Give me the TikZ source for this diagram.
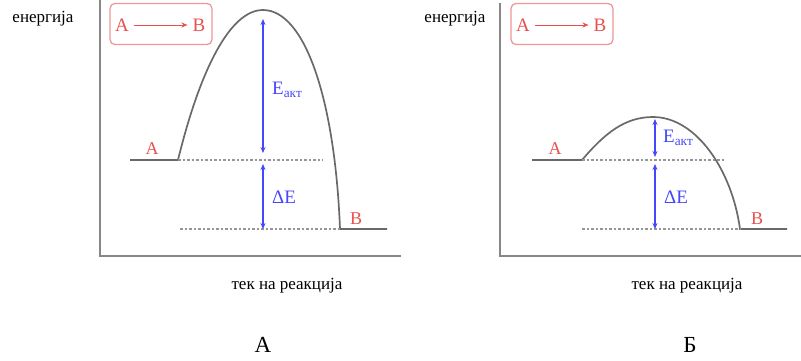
\documentclass[tikz,border=0pt]{standalone}
\usepackage{fontspec}
\setmainfont{Liberation Serif}
\usetikzlibrary{arrows.meta}
\definecolor{axisgray}{RGB}{135,135,135}
\definecolor{curvegray}{RGB}{105,105,105}
\definecolor{lblred}{RGB}{232,80,80}
\definecolor{boxred}{RGB}{240,150,150}
\definecolor{arrblue}{RGB}{70,70,250}
\definecolor{dotgray}{RGB}{150,150,150}
\tikzset{
  axis/.style={draw=axisgray, line width=2pt},
  curve/.style={draw=curvegray, line width=1.7pt},
  level/.style={draw=dotgray, line width=1.6pt, dash pattern=on 2.5pt off 2pt},
  earrow/.style={draw=arrblue, line width=1.1pt, {Stealth[length=6pt,width=5pt]}-{Stealth[length=6pt,width=5pt]}},
  axlabel/.style={font=\fontsize{17}{19}\selectfont, inner sep=0pt},
  redlbl/.style={text=lblred, font=\fontsize{18}{20}\selectfont, inner sep=0pt},
  boxlbl/.style={text=lblred, font=\fontsize{19}{21}\selectfont, inner sep=0pt},
  bluelbl/.style={text=arrblue, font=\fontsize{19}{21}\selectfont, inner sep=0pt},
  rxbox/.style={draw=boxred, line width=1.3pt, rounded corners=5pt, minimum width=102pt, minimum height=41pt},
  caption/.style={font=\fontsize{23}{26}\selectfont, inner sep=0pt}
}
\begin{document}
\begin{tikzpicture}[x=1pt,y=-1pt]
\useasboundingbox (0,0) rectangle (801,360);
% ---------- Panel A ----------
\coordinate (yA) at (100,0);
\coordinate (oA) at (100,256);
\coordinate (xA) at (401,256);
\draw[axis] (yA) -- (oA) -- (xA);
\node[axlabel] (enA) at (43,19) {енергија};
\node[axlabel] (tekA) at (287,286) {тек на реакција};
\node[rxbox] (boxA) at (161,24) {};
\node[boxlbl] (bA1) at (122,25) {A};
\node[boxlbl] (bA2) at (199,25) {B};
\draw[lblred, line width=0.9pt, -{Stealth[length=6pt,width=5pt]}] (bA1.east) ++(5pt,0) -- ([xshift=-5pt]bA2.west);
\coordinate (a0) at (130,160);
\coordinate (a1) at (178,160);
\coordinate (apeak) at (263,10);
\coordinate (a2) at (340,229);
\coordinate (a3) at (387,229);
\draw[curve] (a0) -- (a1) .. controls (200,70) and (230,10) .. (apeak)
  .. controls (305,10) and (335,100) .. (a2) -- (a3);
\coordinate (lA1e) at (323,160);
\coordinate (lA2s) at (180,229);
\draw[level] (a1) -- (lA1e);
\draw[level] (lA2s) -- (a2);
\coordinate (eA1) at (263,19);
\coordinate (eA2) at (263,153);
\coordinate (dA1) at (263,164);
\coordinate (dA2) at (263,229);
\draw[earrow] (eA1) -- (eA2);
\draw[earrow] (dA1) -- (dA2);
\node[redlbl] (lblA) at (152,149) {A};
\node[redlbl] (lblB) at (356,219) {B};
\node[bluelbl, anchor=west] (eactA) at (272,90) {E\textsubscript{акт}};
\node[bluelbl, anchor=west] (dEA) at (272,197) {ΔE};
\node[caption] (capA) at (263,345) {А};
% ---------- Panel B ----------
\coordinate (yB) at (500,3);
\coordinate (oB) at (500,256);
\coordinate (xB) at (801,256);
\draw[axis] (yB) -- (oB) -- (xB);
\node[axlabel] (enB) at (455,19) {енергија};
\node[axlabel] (tekB) at (687,286) {тек на реакција};
\node[rxbox] (boxB) at (562,24) {};
\node[boxlbl] (bB1) at (523,25) {A};
\node[boxlbl] (bB2) at (600,25) {B};
\draw[lblred, line width=0.9pt, -{Stealth[length=6pt,width=5pt]}] (bB1.east) ++(5pt,0) -- ([xshift=-5pt]bB2.west);
\coordinate (b0) at (532,160);
\coordinate (b1) at (582,160);
\coordinate (bpeak) at (653,117);
\coordinate (b2) at (740,229);
\coordinate (b3) at (787,229);
\draw[curve] (b0) -- (b1) .. controls (605,133) and (625,117) .. (bpeak)
  .. controls (696,117) and (732,170) .. (b2) -- (b3);
\coordinate (lB1e) at (725,160);
\coordinate (lB2s) at (582,229);
\draw[level] (b1) -- (lB1e);
\draw[level] (lB2s) -- (b2);
\coordinate (eB1) at (655,119);
\coordinate (eB2) at (655,157);
\coordinate (dB1) at (655,164);
\coordinate (dB2) at (655,229);
\draw[earrow] (eB1) -- (eB2);
\draw[earrow] (dB1) -- (dB2);
\node[redlbl] (lblA2) at (555,149) {A};
\node[redlbl] (lblB2) at (757,219) {B};
\node[bluelbl, anchor=west] (eactB) at (663,138) {E\textsubscript{акт}};
\node[bluelbl, anchor=west] (dEB) at (664,197) {ΔE};
\node[caption] (capB) at (690,345) {Б};
\end{tikzpicture}
\end{document}
